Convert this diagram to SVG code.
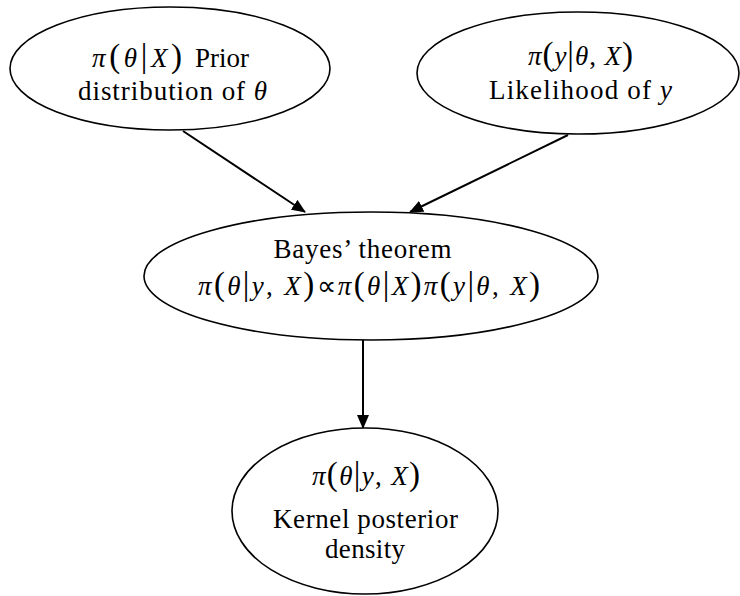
<svg xmlns="http://www.w3.org/2000/svg" width="740" height="596" viewBox="0 0 740 596">
<style>
  .node ellipse { fill: #ffffff; stroke: #000000; stroke-width: 1.6; }
  .t { font-family: 'Liberation Serif', 'Times New Roman', serif; font-size: 27px; fill: #000000; text-anchor: middle; }
  .s { text-anchor: start; }
  .i { font-style: italic; }
  .p { font-size: 33px; }
  .edge { stroke: #000000; stroke-width: 2; fill: none; marker-end: url(#ah); }
</style>
<defs>
  <marker id="ah" markerUnits="userSpaceOnUse" markerWidth="14" markerHeight="12" refX="13" refY="6" orient="auto">
    <path d="M0,0 L14,6 L0,12 Z" fill="#000000"/>
  </marker>
</defs>
<rect x="0" y="0" width="740" height="596" fill="#ffffff"/>
<g id="connectors">
  <line class="edge" x1="183" y1="131" x2="305" y2="212"/>
  <line class="edge" x1="568" y1="135" x2="410" y2="212"/>
  <line class="edge" x1="363" y1="340" x2="363" y2="428"/>
</g>
<g id="prior" class="node">
  <ellipse cx="170" cy="68.5" rx="160" ry="61.5"/>
  <text class="t" x="137" y="67" textLength="90" lengthAdjust="spacing"><tspan class="i">π</tspan><tspan class="p">(</tspan><tspan class="i">θ</tspan><tspan class="p">|</tspan><tspan class="i">X</tspan><tspan class="p">)</tspan></text>
  <text class="t s" x="195" y="67">Prior</text>
  <text class="t" x="172.5" y="100" textLength="189" lengthAdjust="spacing">distribution of <tspan class="i">θ</tspan></text>
</g>
<g id="likelihood" class="node">
  <ellipse cx="578" cy="73" rx="161" ry="61"/>
  <text class="t" x="580.5" y="65" textLength="105" lengthAdjust="spacing"><tspan class="i">π</tspan><tspan class="p">(</tspan><tspan class="i">y</tspan><tspan class="p">|</tspan><tspan class="i">θ</tspan>, <tspan class="i">X</tspan><tspan class="p">)</tspan></text>
  <text class="t" x="580.5" y="99" textLength="183" lengthAdjust="spacing">Likelihood of  <tspan class="i">y</tspan></text>
</g>
<g id="bayes" class="node">
  <ellipse cx="371" cy="276" rx="227" ry="64"/>
  <text class="t" x="362.5" y="258" textLength="178" lengthAdjust="spacing">Bayes’ theorem</text>
  <text class="t" x="369" y="295" textLength="342" lengthAdjust="spacing"><tspan class="i">π</tspan><tspan class="p">(</tspan><tspan class="i">θ</tspan><tspan class="p">|</tspan><tspan class="i">y</tspan>, <tspan class="i">X</tspan><tspan class="p">)</tspan>∝<tspan class="i">π</tspan><tspan class="p">(</tspan><tspan class="i">θ</tspan><tspan class="p">|</tspan><tspan class="i">X</tspan><tspan class="p">)</tspan><tspan class="i">π</tspan><tspan class="p">(</tspan><tspan class="i">y</tspan><tspan class="p">|</tspan><tspan class="i">θ</tspan>, <tspan class="i">X</tspan><tspan class="p">)</tspan></text>
</g>
<g id="posterior" class="node">
  <ellipse cx="365" cy="511" rx="133" ry="83"/>
  <text class="t" x="366" y="485" textLength="108" lengthAdjust="spacing"><tspan class="i">π</tspan><tspan class="p">(</tspan><tspan class="i">θ</tspan><tspan class="p">|</tspan><tspan class="i">y</tspan>, <tspan class="i">X</tspan><tspan class="p">)</tspan></text>
  <text class="t" x="365.5" y="528" textLength="185" lengthAdjust="spacing">Kernel posterior</text>
  <text class="t" x="365" y="558" textLength="80" lengthAdjust="spacing">density</text>
</g>
</svg>
